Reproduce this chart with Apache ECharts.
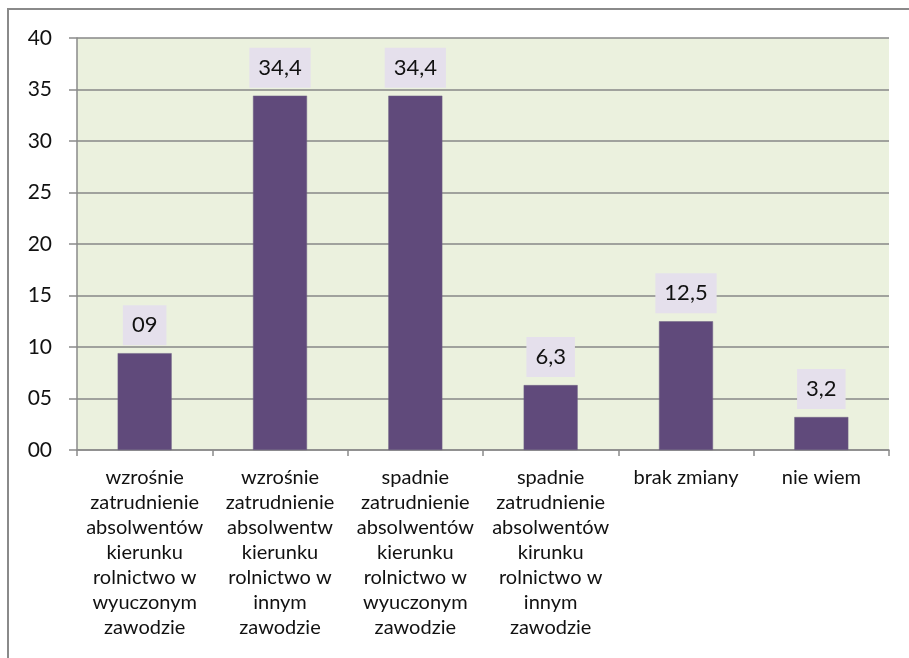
<!DOCTYPE html>
<html>
<head>
<meta charset="utf-8">
<script src="https://cdn.jsdelivr.net/npm/echarts@6/dist/echarts.min.js"></script>
<style>
html,body{margin:0;padding:0;background:#fff;}
#frame{position:absolute;left:7px;top:8px;width:910px;height:660px;border-top:2px solid #8a8a8a;border-left:2px solid #8a8a8a;}
#chart{position:absolute;left:0;top:0;width:909px;height:658px;}
</style>
</head>
<body>
<div id="frame"></div>
<div id="chart"></div>
<script>
const categories = [
  'wzrośnie\nzatrudnienie\nabsolwentów\nkierunku\nrolnictwo w\nwyuczonym\nzawodzie',
  'wzrośnie\nzatrudnienie\nabsolwentw\nkierunku\nrolnictwo w\ninnym\nzawodzie',
  'spadnie\nzatrudnienie\nabsolwentów\nkierunku\nrolnictwo w\nwyuczonym\nzawodzie',
  'spadnie\nzatrudnienie\nabsolwentów\nkirunku\nrolnictwo w\ninnym\nzawodzie',
  'brak zmiany',
  'nie wiem'
];
const values = [9.4, 34.4, 34.4, 6.3, 12.5, 3.2];
const valueLabels = ['09', '34,4', '34,4', '6,3', '12,5', '3,2'];
const yTickLabels = ['00', '05', '10', '15', '20', '25', '30', '35', '40'];

const FONT = 'Lato';
const chart = echarts.init(document.getElementById('chart'), null, {renderer: 'canvas'});
chart.setOption({
  animation: false,
  backgroundColor: 'transparent',
  textStyle: {fontFamily: FONT},
  grid: {left: 77, right: 20, top: 38, bottom: 208, show: true, backgroundColor: '#EBF1DE', borderWidth: 0},
  xAxis: {
    type: 'category',
    data: categories,
    axisLine: {show: true, lineStyle: {color: '#8a8a8a', width: 1.5}},
    axisTick: {show: true, alignWithLabel: false, length: 6, lineStyle: {color: '#8a8a8a', width: 1.5}},
    axisLabel: {interval: 0, color: '#111', fontSize: 20, lineHeight: 25, margin: 15, fontFamily: FONT}
  },
  yAxis: {
    type: 'value',
    min: 0, max: 40, interval: 5,
    axisLine: {show: true, lineStyle: {color: '#8a8a8a', width: 1.5}},
    axisTick: {show: true, length: 8, lineStyle: {color: '#8a8a8a', width: 1.5}},
    splitLine: {show: true, lineStyle: {color: '#878787', width: 1.5}},
    axisLabel: {
      color: '#111', fontSize: 21, margin: 25, fontFamily: FONT,
      formatter: v => yTickLabels[Math.round(v / 5)]
    }
  },
  series: [{
    type: 'bar',
    data: values,
    barWidth: 54,
    itemStyle: {color: '#604A7B', borderColor: '#6f6284', borderWidth: 0.5},
    label: {
      show: true,
      position: 'top',
      distance: 8,
      color: '#111',
      fontSize: 22,
      lineHeight: 22,
      fontFamily: FONT,
      backgroundColor: '#E5E0EC',
      padding: [9, 9, 9, 9],
      formatter: p => valueLabels[p.dataIndex]
    }
  }]
});
</script>
</body>
</html>
